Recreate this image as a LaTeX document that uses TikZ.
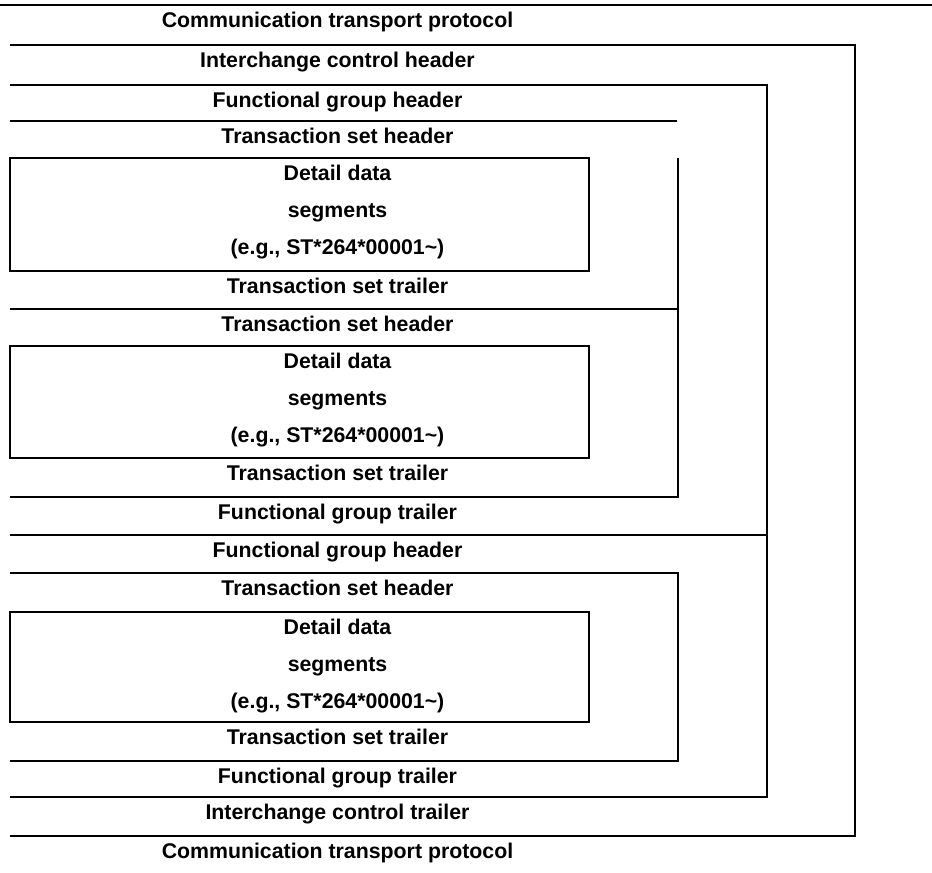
\documentclass[tikz,border=0pt]{standalone}
\usepackage{fontspec}
\setmainfont{Liberation Sans}
\usetikzlibrary{positioning}

\begin{document}
\begin{tikzpicture}[x=1pt, y=-1pt,
    % heavy black rules
    rule/.style={draw=black, line width=1.9pt},
    % bold captions, placed on their baseline
    caption/.style={font=\fontsize{21.3}{25}\selectfont\bfseries, anchor=base, inner sep=0pt}
    ]
    \useasboundingbox (0,0) rectangle (932,873);

    % --- Communication transport protocol (top) ---
    \draw[rule] (0,5) -- (932,5);
    \node[caption] (ctpTop) at (337.5,27) {Communication transport protocol};

    % --- Interchange envelope ---
    \draw[rule] (10,45) -- (855,45) -- (855,836) -- (10,836);
    \node[caption] (ichHead) at (337.5,67) {Interchange control header};

    % --- Functional groups (share the right side) ---
    \draw[rule] (10,85) -- (767,85) -- (767,797) -- (10,797);
    \draw[rule] (10,535) -- (767,535);
    \node[caption] (fgHeadA) at (337.5,107) {Functional group header};

    % --- Transaction sets ---
    \draw[rule] (10,121) -- (677,121);
    \draw[rule] (678,158) -- (678,497) -- (10,497);
    \draw[rule] (10,309) -- (678,309);
    \draw[rule] (10,573) -- (678,573) -- (678,761) -- (10,761);

    % --- Detail data boxes ---
    \foreach \top/\bot/\id in {158/271/A, 346/458/B, 612/722/C} {
        \draw[rule] (10,\top) rectangle (589,\bot);
        \node[caption] (dd\id1) at (337.5,\top+22) {Detail data};
        \node[caption] (dd\id2) at (337.5,\top+59) {segments};
        \node[caption] (dd\id3) at (337.5,\top+96) {(e.g., ST*264*00001\textasciitilde)};
    }

    % first group
    \node[caption] (tsHeadA) at (337.5,143) {Transaction set header};
    \node[caption] (tsTrailA) at (337.5,293) {Transaction set trailer};
    \node[caption] (tsHeadB) at (337.5,331) {Transaction set header};
    \node[caption] (tsTrailB) at (337.5,480) {Transaction set trailer};
    \node[caption] (fgTrailA) at (337.5,519) {Functional group trailer};

    % second group
    \node[caption] (fgHeadB) at (337.5,557) {Functional group header};
    \node[caption] (tsHeadC) at (337.5,595) {Transaction set header};
    \node[caption] (tsTrailC) at (337.5,744) {Transaction set trailer};
    \node[caption] (fgTrailB) at (337.5,783) {Functional group trailer};

    % --- closing ---
    \node[caption] (ichTrail) at (337.5,819) {Interchange control trailer};
    \node[caption] (ctpBot) at (337.5,858) {Communication transport protocol};

\end{tikzpicture}
\end{document}
